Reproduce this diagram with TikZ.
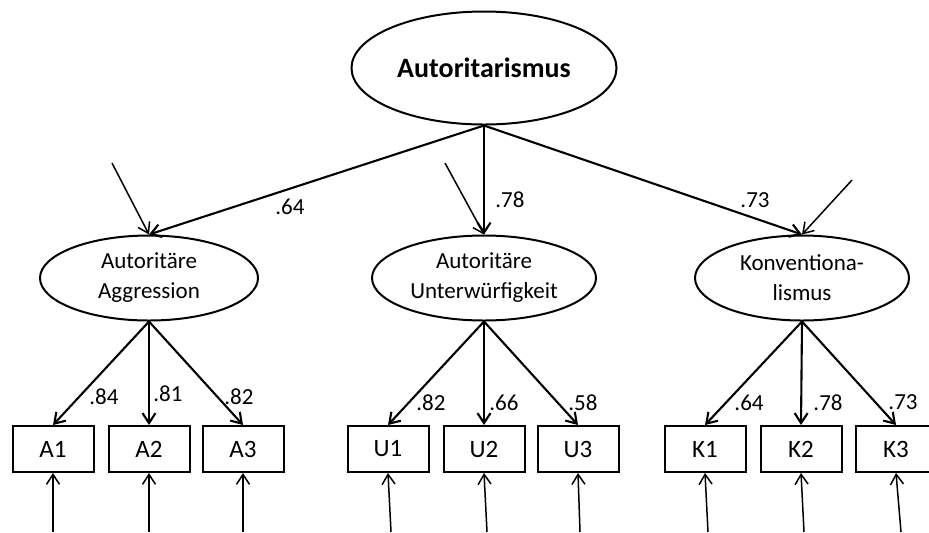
\documentclass[tikz,border=0pt]{standalone}
\usepackage{fontspec}
\setmainfont{Carlito}
\usetikzlibrary{shapes.geometric,arrows.meta}

\begin{document}
\begin{tikzpicture}[x=0.5pt,y=-0.5pt,
    latent/.style={ellipse, draw, line width=1pt, inner sep=0pt, align=center,
      minimum width=109pt, minimum height=42.5pt, font=\fontsize{11.5}{15}\selectfont},
    item/.style={rectangle, draw, line width=1pt, minimum width=40.5pt,
      minimum height=23pt, font=\fontsize{12.5}{15}\selectfont},
    load/.style={line width=1.05pt, -{Straight Barb[length=5pt,width=6.5pt]}},
    err/.style={line width=0.75pt, -{Straight Barb[length=5pt,width=6.5pt]}},
    coef/.style={font=\fontsize{11.5}{14}\selectfont}]
    \useasboundingbox (0,0) rectangle (929,532);

    % Second-order factor
    \node[latent, minimum width=132.5pt, minimum height=56.5pt,
      font=\fontsize{14}{16}\selectfont\bfseries] (auto) at (484,68) {Autoritarismus};

    % First-order factors
    \node[latent] (agg) at (149,278) {Autoritäre\\Aggression};
    \node[latent, minimum width=112pt] (unt) at (484,278) {Autoritäre\\Unterwürfigkeit};
    \node[latent, minimum width=107pt] (konv) at (802,278) {Konventiona-\\lismus};

    \draw[load] (auto.south) -- (agg.north);
    \draw[load] (auto.south) -- (unt.north);
    \draw[load] (auto.south) -- (konv.north);
    \node[coef] at (290,207) {.64};
    \node[coef] at (510,200) {.78};
    \node[coef] at (755,200) {.73};

    % Disturbances
    \coordinate (dagg) at (112,163);
    \coordinate (dunt) at (445,163);
    \coordinate (dkonv) at (852,180);
    \draw[err] (dagg) -- (agg.north);
    \draw[err] (dunt) -- (unt.north);
    \draw[err] (dkonv) -- (konv.north);

    % Indicators
    \node[item] (A1) at (53,449) {A1};
    \node[item] (A2) at (149,449) {A2};
    \node[item] (A3) at (243,449) {A3};
    \node[item] (U1) at (388,449) {U1};
    \node[item] (U2) at (484,449) {U2};
    \node[item] (U3) at (578,449) {U3};
    \node[item] (K1) at (705,449) {K1};
    \node[item] (K2) at (801,449) {K2};
    \node[item] (K3) at (896,449) {K3};

    \draw[load] (agg.south) -- (A1.north);
    \draw[load] (agg.south) -- (A2.north);
    \draw[load] (agg.south) -- (A3.north);
    \node[coef] at (104,397) {.84};
    \node[coef] at (168,394) {.81};
    \node[coef] at (239,397) {.82};

    \draw[load] (unt.south) -- (U1.north);
    \draw[load] (unt.south) -- (U2.north);
    \draw[load] (unt.south) -- (U3.north);
    \node[coef] at (431,403) {.82};
    \node[coef] at (504,403) {.66};
    \node[coef] at (583,403) {.58};

    \draw[load] (konv.south) -- (K1.north);
    \draw[load] (konv.south) -- (K2.north);
    \draw[load] (konv.south) -- (K3.north);
    \node[coef] at (749,403) {.64};
    \node[coef] at (828,403) {.78};
    \node[coef] at (903,402) {.73};

    % Measurement errors
    \foreach \i/\x in {A1/53,A2/149,A3/243,U1/391,U2/487,U3/580,K1/708,K2/804,K3/901}{
      \coordinate (e\i) at (\x,532);
      \draw[err] (e\i) -- (\i.south);
    }
\end{tikzpicture}
\end{document}
